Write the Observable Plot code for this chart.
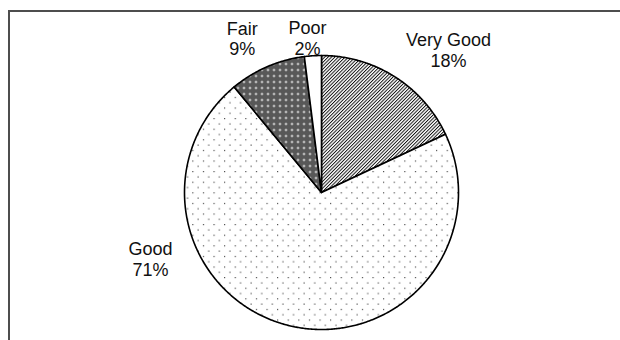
<!DOCTYPE html>
<html><head><meta charset="utf-8">
<script src="https://cdn.jsdelivr.net/npm/d3@7"></script>
<script src="https://cdn.jsdelivr.net/npm/@observablehq/plot@0.6"></script>
<style>
html,body{margin:0;padding:0;background:#fff;}
#wrap{position:relative;width:620px;height:340px;overflow:hidden;}
#chart{position:absolute;left:0;top:0;}
#frame{position:absolute;left:8px;top:10px;width:640px;height:360px;border-top:2px solid #4d4d4d;border-left:2px solid #4d4d4d;box-sizing:border-box;pointer-events:none;}
</style></head><body>
<div id="wrap"><div id="chart"></div><div id="frame"></div></div>
<script>
// ---- data ----
const categories = ["Very Good", "Good", "Fair", "Poor"];
const shares = [18, 71, 9, 2];
const pctLabels = ["18%", "71%", "9%", "2%"];

// ---- styles / layout (not data) ----
const fills = ["url(#hatch)", "url(#dots)", "url(#check)", "#ffffff"];
const labelAnchors = [[0.927, 1.042], [-1.248, -0.483], [-0.579, 1.124], [-0.102, 1.128]];

// build slice outlines from the shares (clockwise from 12 o'clock)
const total = d3.sum(shares);
const points = [];
let acc = 0;
categories.forEach((c, i) => {
  const a0 = acc / total * 2 * Math.PI;
  acc += shares[i];
  const a1 = acc / total * 2 * Math.PI;
  points.push({key: c, fill: fills[i], x: 0, y: 0});
  const n = Math.max(2, Math.ceil((a1 - a0) / (Math.PI / 360)));
  for (let k = 0; k <= n; k++) {
    const a = a0 + (a1 - a0) * k / n;
    points.push({key: c, fill: fills[i], x: Math.sin(a), y: Math.cos(a)});
  }
  points.push({key: c, fill: fills[i], x: 0, y: 0});
});

const labelData = categories.map((c, i) => ({
  text: c + "\n" + pctLabels[i], x: labelAnchors[i][0], y: labelAnchors[i][1]
}));

const svg = Plot.plot({
  width: 620, height: 340, margin: 0,
  style: {background: "transparent", fontFamily: "'Liberation Sans', Arial, sans-serif"},
  x: {domain: [-1, 1], range: [184, 458], axis: null},
  y: {domain: [-1, 1], range: [329, 55], axis: null},
  color: {type: "identity"},
  marks: [
    Plot.line(points, {x: "x", y: "y", z: "key", fill: "fill", stroke: "#000", strokeWidth: 1.6, strokeLinejoin: "round", curve: "linear"}),
    Plot.text(labelData, {x: "x", y: "y", text: "text", fontSize: 18, lineHeight: 1.15, fill: "#111"})
  ]
});

// pattern definitions
const defs = d3.select(svg).insert("defs", ":first-child");
const hatch = defs.append("pattern").attr("id", "hatch").attr("patternUnits", "userSpaceOnUse")
  .attr("width", 2.4).attr("height", 2.4).attr("patternTransform", "rotate(45)");
hatch.append("rect").attr("width", 2.4).attr("height", 2.4).attr("fill", "#fff");
hatch.append("line").attr("x1", 0.5).attr("y1", 0).attr("x2", 0.5).attr("y2", 2.4).attr("stroke", "#000").attr("stroke-width", 0.9);

const dots = defs.append("pattern").attr("id", "dots").attr("patternUnits", "userSpaceOnUse")
  .attr("width", 10.6).attr("height", 10.6);
dots.append("rect").attr("width", 10.6).attr("height", 10.6).attr("fill", "#fff");
dots.append("rect").attr("x", 1).attr("y", 1).attr("width", 1.1).attr("height", 1.1).attr("fill", "#333");
dots.append("rect").attr("x", 6.3).attr("y", 6.3).attr("width", 1.1).attr("height", 1.1).attr("fill", "#333");

const check = defs.append("pattern").attr("id", "check").attr("patternUnits", "userSpaceOnUse")
  .attr("width", 6).attr("height", 6);
check.append("rect").attr("width", 6).attr("height", 6).attr("fill", "#777");
for (let i = 0; i < 6; i++) for (let j = 0; j < 6; j++) {
  if ((i + j) % 2 === 0) check.append("rect").attr("x", i).attr("y", j).attr("width", 1).attr("height", 1).attr("fill", "#3a3a3a");
}
[[3,2],[2,3],[4,3],[3,4]].forEach(([i, j]) =>
  check.append("rect").attr("x", i).attr("y", j).attr("width", 1).attr("height", 1).attr("fill", "#ccc"));
check.append("rect").attr("x", 3).attr("y", 3).attr("width", 1).attr("height", 1).attr("fill", "#fff");

document.getElementById("chart").appendChild(svg);
</script>
</body></html>
